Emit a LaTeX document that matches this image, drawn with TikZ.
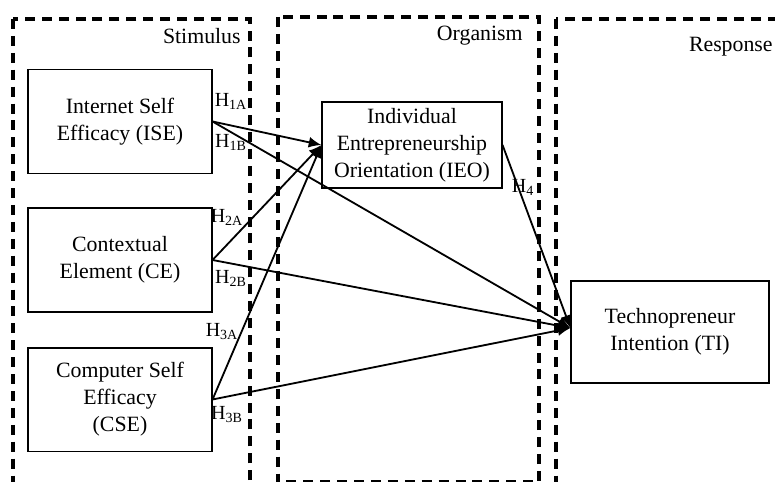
\documentclass[tikz,border=0pt]{standalone}
\usepackage{fontspec}
\setmainfont{Liberation Serif}
\usetikzlibrary{positioning,arrows.meta}

\begin{document}
\begin{tikzpicture}[
    x=0.55pt, y=-0.55pt,
    font=\fontsize{12}{14.8}\selectfont,
    group/.style={draw, line width=1.7pt, dash pattern=on 5.5pt off 3.8pt},
    construct/.style={draw, line width=0.6pt, align=center, inner sep=0pt},
    hlabel/.style={inner sep=0pt, font=\fontsize{11}{13}\selectfont},
    title/.style={anchor=east, inner sep=0pt},
    path/.style={draw, line width=1pt, -{Latex[length=7pt, width=6pt]}}
]
\useasboundingbox (0,0) rectangle (775,482);

% Stimulus, Organism, Response
\draw[group] (13,19) rectangle (250,520);
\draw[group] (278,17) rectangle (539,482);
\draw[group] (556,19) rectangle (800,520);
\node[title] (stim) at (241,36) {Stimulus};
\node[title] (org) at (523,36) {Organism};
\node[title] (resp) at (773,47) {Response};

% Constructs
\node[construct, minimum width=101.2pt, minimum height=56.7pt] (ISE) at (120,121.5) {Internet Self\\Efficacy (ISE)};
\node[construct, minimum width=101.2pt, minimum height=57.2pt] (CE) at (120,260) {Contextual\\Element (CE)};
\node[construct, minimum width=101.2pt, minimum height=56.7pt] (CSE) at (120,399.5) {Computer Self\\Efficacy\\(CSE)};
\node[construct, minimum width=99pt, minimum height=47.3pt] (IEO) at (412,145) {Individual\\Entrepreneurship\\Orientation (IEO)};
\node[construct, minimum width=108.9pt, minimum height=56.1pt] (TI) at (670,332) {Technopreneur\\Intention (TI)};
\coordinate (tip) at ([yshift=2.2pt]TI.west);

% Paths
\draw[path] (ISE.east) -- (IEO.west);
\draw[path] (ISE.east) -- (tip);
\draw[path] (CE.east) -- (IEO.west);
\draw[path] (CE.east) -- (tip);
\draw[path] (CSE.east) -- (IEO.west);
\draw[path] (CSE.east) -- (tip);
\draw[path] (IEO.east) -- (tip);

% Hypotheses
\node[hlabel] (h1a) at (231,101) {H\textsubscript{1A}};
\node[hlabel] (h1b) at (231,142) {H\textsubscript{1B}};
\node[hlabel] (h2a) at (227,217) {H\textsubscript{2A}};
\node[hlabel] (h2b) at (231,278) {H\textsubscript{2B}};
\node[hlabel] (h3a) at (222,332) {H\textsubscript{3A}};
\node[hlabel] (h3b) at (227,415) {H\textsubscript{3B}};
\node[hlabel] (h4) at (523,187) {H\textsubscript{4}};

\end{tikzpicture}
\end{document}
